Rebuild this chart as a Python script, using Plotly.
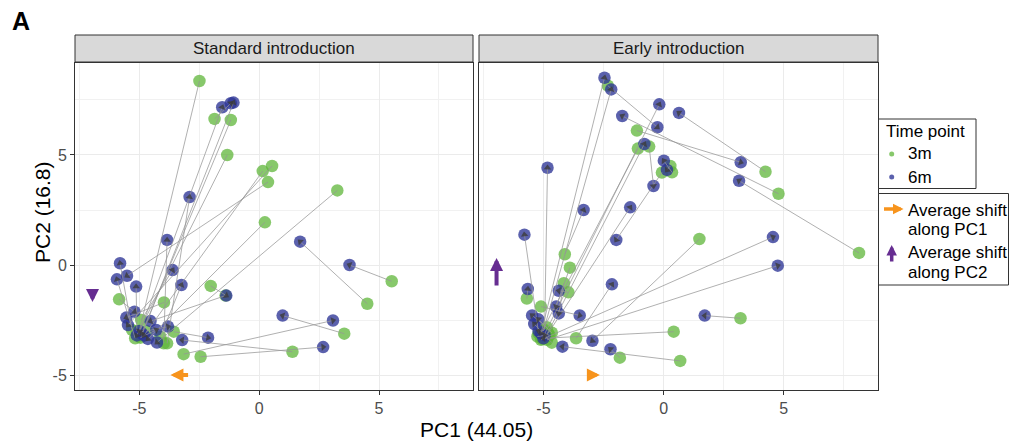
import math
import plotly.graph_objects as go

W, H = 1013, 443

panel_titles = ["Standard introduction", "Early introduction"]
time_points = ["3m", "6m"]
x_ticks = [-5, 0, 5]
y_ticks = [-5, 0, 5]

# Standard introduction: paired subjects, 3m -> 6m
std_pc1_3m = [-2.49, -5.00, -4.90, -1.86, -1.18, -1.33, 0.15, 0.54, 0.37, 0.24, 3.26, 5.53, 4.51, 3.55, -3.15, -2.44, 1.39, -2.02, -3.56, -3.84, -3.98, -5.30, -5.17, -5.10, -4.92, -4.12, -5.84, -3.97, -1.40, -4.70, -4.95]
std_pc2_3m = [8.36, -3.10, -3.20, 6.64, 6.59, 5.00, 4.27, 4.50, 3.77, 1.94, 3.39, -0.74, -1.76, -3.12, -4.05, -4.17, -3.94, -0.95, -3.03, -3.56, -3.56, -2.95, -3.33, -3.00, -2.50, -3.26, -1.56, -1.70, -1.39, -3.00, -3.30]
std_pc1_6m = [-5.00, -1.54, -1.07, -1.18, -4.90, -5.10, -4.80, -5.47, -5.51, -4.64, -4.26, 3.77, 1.71, 0.98, 3.08, 2.67, -3.21, -1.37, -2.13, -2.90, -3.84, -5.80, -5.93, -5.13, -3.61, -3.24, -5.20, -5.54, -4.53, -3.80, -4.29]
std_pc2_6m = [-3.00, 7.17, 7.38, 7.35, -3.10, -3.20, -3.20, -2.73, -0.49, -3.36, -3.52, 0.00, 1.06, -2.30, -2.52, -3.73, -3.41, -1.39, -3.30, 3.09, 1.14, 0.08, -0.65, -0.98, -0.23, -0.91, -2.12, -2.39, -2.55, -2.80, -2.95]

# Early introduction: paired subjects, 3m -> 6m
early_pc1_3m = [4.24, 8.13, 4.78, -2.32, -5.00, -1.11, -0.60, -5.10, -4.90, -5.05, -1.07, 0.28, 0.35, -0.07, -4.80, -4.11, -4.95, -5.20, -1.82, 0.69, 0.42, 1.49, 3.20, -5.10, -4.85, -3.64, -3.90, -4.15, -3.96, -5.10, -5.69, -4.86, -4.65, -4.65, -5.25, -4.75]
early_pc2_3m = [4.24, 0.55, 3.24, 8.15, -3.00, 6.11, 5.38, -3.10, -3.25, -3.35, 5.29, 4.50, 4.21, 4.20, -3.10, 0.49, -2.95, -3.10, -4.21, -4.36, -3.03, 1.18, -2.42, -3.40, -3.40, -3.33, -0.12, -0.83, -1.24, -1.89, -1.52, -2.83, -3.08, -3.53, -3.25, -3.20]
early_pc1_6m = [0.64, 3.14, -1.72, -0.26, -2.18, 3.21, -0.42, -2.46, -0.80, -0.18, -5.10, 0.14, 0.01, -1.97, -1.39, -3.33, -4.83, -5.79, -2.21, -4.21, -5.00, -2.96, 1.71, 4.55, 4.75, -2.15, -4.47, -4.36, -4.36, -3.49, -5.65, -5.47, -5.21, -5.38, -4.95, -5.20]
early_pc2_6m = [6.91, 3.83, 6.77, 6.26, 7.98, 4.67, 3.59, 8.51, 5.50, 7.30, -3.10, 4.32, 4.74, 1.14, 2.62, 2.50, 4.42, 1.38, -3.83, -3.71, -3.33, -3.44, -2.30, 1.27, -0.03, -0.88, -1.89, -2.20, -1.17, -2.29, -1.09, -2.29, -2.47, -2.68, -3.20, -3.00]

# Average shift arrows (per panel: standard, early)
shift_pc1_from = [-2.90, -3.20]
shift_pc1_to = [-3.70, -2.65]
shift_pc1_at_y = -5.0
shift_pc2_from = [-1.12, -1.00]
shift_pc2_to = [-1.68, 0.32]
shift_pc2_at_x = -6.95

GREEN = "rgba(95,182,58,0.75)"
BLUE = "rgba(45,52,150,0.78)"
ORANGE = "#F7941D"
PURPLE = "#662D91"
FONT = "Liberation Sans, Arial, sans-serif"

X_RANGE = [-7.68, 8.92]
Y_RANGE = [-5.68, 9.18]

# panel geometry (pixels)
panel_x = [(75, 473), (479, 878)]
panel_top, panel_bottom = 63, 390
strip_top, strip_bottom = 35, 62

def px(v):
    return v / W

def py(v):
    return 1 - v / H

# pixel per data unit (for orienting arrowheads)
SX = (panel_x[0][1] - panel_x[0][0]) / (X_RANGE[1] - X_RANGE[0])
SY = (panel_bottom - panel_top) / (Y_RANGE[1] - Y_RANGE[0])

fig = go.Figure()

panels = [
    (std_pc1_3m, std_pc2_3m, std_pc1_6m, std_pc2_6m, "x", "y"),
    (early_pc1_3m, early_pc2_3m, early_pc1_6m, early_pc2_6m, "x2", "y2"),
]

annotations = []
shapes = []

for x3, y3, x6, y6, xa, ya in panels:
    fig.add_trace(go.Scatter(x=x3, y=y3, mode="markers", xaxis=xa, yaxis=ya,
                             marker=dict(size=12.5, color=GREEN, line=dict(width=0)),
                             showlegend=False, hoverinfo="skip"))
    fig.add_trace(go.Scatter(x=x6, y=y6, mode="markers", xaxis=xa, yaxis=ya,
                             marker=dict(size=12.5, color=BLUE, line=dict(width=0)),
                             showlegend=False, hoverinfo="skip"))
    xs, ys = [], []
    for a, b, c, d in zip(x3, y3, x6, y6):
        xs += [a, c, None]
        ys += [b, d, None]
    fig.add_trace(go.Scatter(x=xs, y=ys, mode="lines", xaxis=xa, yaxis=ya,
                             line=dict(color="rgba(150,150,150,0.75)", width=1),
                             connectgaps=False, showlegend=False, hoverinfo="skip"))
    # small dark arrowheads at the 6m end of each segment
    angles = [math.degrees(math.atan2((c - a) * SX, (d - b) * SY)) for a, b, c, d in zip(x3, y3, x6, y6)]
    fig.add_trace(go.Scatter(x=x6, y=y6, mode="markers", xaxis=xa, yaxis=ya,
                             marker=dict(symbol="triangle-up", size=6.5, angle=angles,
                                         color="rgba(60,60,60,0.8)", line=dict(width=0)),
                             showlegend=False, hoverinfo="skip"))

# average shift arrows
for i, (xa, ya) in enumerate([("x", "y"), ("x2", "y2")]):
    annotations.append(dict(x=shift_pc1_to[i], y=shift_pc1_at_y, ax=shift_pc1_from[i], ay=shift_pc1_at_y,
                            xref=xa, yref=ya, axref=xa, ayref=ya, text="", showarrow=True,
                            arrowhead=2, arrowwidth=4, arrowsize=0.65, arrowcolor=ORANGE, standoff=0))
    annotations.append(dict(x=shift_pc2_at_x, y=shift_pc2_to[i], ax=shift_pc2_at_x, ay=shift_pc2_from[i],
                            xref=xa, yref=ya, axref=xa, ayref=ya, text="", showarrow=True,
                            arrowhead=2, arrowwidth=4, arrowsize=0.65, arrowcolor=PURPLE, standoff=0))

for (l, r), title in zip(panel_x, panel_titles):
    shapes.append(dict(type="rect", xref="paper", yref="paper", x0=px(l), x1=px(r),
                       y0=py(strip_bottom), y1=py(strip_top), fillcolor="#D9D9D9",
                       line=dict(color="#333333", width=1), layer="above"))
    annotations.append(dict(x=px((l + r) / 2), y=py((strip_top + strip_bottom) / 2), xref="paper", yref="paper",
                            text=title, showarrow=False, font=dict(family=FONT, size=17, color="#1A1A1A"),
                            xanchor="center", yanchor="middle"))

# axis titles & panel label
annotations.append(dict(x=px(476), y=py(429), xref="paper", yref="paper", text="PC1 (44.05)", showarrow=False,
                        font=dict(family=FONT, size=21, color="#000000"), xanchor="center", yanchor="middle"))
annotations.append(dict(x=px(42), y=py(212), xref="paper", yref="paper", text="PC2 (16.8)", showarrow=False,
                        textangle=-90, font=dict(family=FONT, size=21, color="#000000"),
                        xanchor="center", yanchor="middle"))
annotations.append(dict(x=px(21), y=py(21), xref="paper", yref="paper", text="<b>A</b>", showarrow=False,
                        font=dict(family=FONT, size=25, color="#000000"), xanchor="center", yanchor="middle"))

# legend 1: Time point
shapes.append(dict(type="rect", xref="paper", yref="paper", x0=px(878.5), x1=px(976), y0=py(188.5), y1=py(119),
                   line=dict(color="#333333", width=1), fillcolor="white"))
annotations.append(dict(x=px(884), y=py(131), xref="paper", yref="paper", text="Time point", showarrow=False,
                        font=dict(family=FONT, size=17, color="#000000"), xanchor="left", yanchor="middle"))
for lab, col, yc in zip(time_points, [GREEN, BLUE], [154, 177]):
    shapes.append(dict(type="circle", xref="paper", yref="paper", x0=px(889.2), x1=px(894.2),
                       y0=py(yc + 2.5), y1=py(yc - 2.5), fillcolor=col, line=dict(width=0)))
    annotations.append(dict(x=px(906), y=py(yc), xref="paper", yref="paper", text=lab, showarrow=False,
                            font=dict(family=FONT, size=17, color="#000000"), xanchor="left", yanchor="middle"))

# legend 2: average shift arrows
shapes.append(dict(type="rect", xref="paper", yref="paper", x0=px(878.5), x1=px(1008.5), y0=py(285), y1=py(193.5),
                   line=dict(color="#333333", width=1), fillcolor="white"))
annotations.append(dict(x=px(903.5), y=py(209), xref="paper", yref="paper", text="", showarrow=True,
                        ax=-21, ay=0, arrowhead=2, arrowwidth=3.5, arrowsize=0.6, arrowcolor=ORANGE, standoff=0))
annotations.append(dict(x=px(891.7), y=py(245), xref="paper", yref="paper", text="", showarrow=True,
                        ax=0, ay=18, arrowhead=2, arrowwidth=3.5, arrowsize=0.6, arrowcolor=PURPLE, standoff=0))
for txt, yc in [("Average shift", 210), ("along PC1", 229), ("Average shift", 252), ("along PC2", 272)]:
    annotations.append(dict(x=px(906), y=py(yc), xref="paper", yref="paper", text=txt, showarrow=False,
                            font=dict(family=FONT, size=17, color="#000000"), xanchor="left", yanchor="middle"))

axis_common = dict(range=X_RANGE, showgrid=True, gridcolor="#EBEBEB", gridwidth=1.1, zeroline=False,
                   showline=True, mirror=True, linecolor="#333333", linewidth=1,
                   ticks="outside", ticklen=4, tickcolor="#333333", tickwidth=1,
                   tickvals=x_ticks, ticktext=[str(v) for v in x_ticks],
                   tickfont=dict(family=FONT, size=16, color="#4D4D4D"),
                   minor=dict(tickvals=[-7.5, -2.5, 2.5, 7.5], showgrid=True, gridcolor="#F1F1F1", gridwidth=0.7,
                              ticks=""))
yaxis_common = dict(range=Y_RANGE, showgrid=True, gridcolor="#EBEBEB", gridwidth=1.1, zeroline=False,
                    showline=True, mirror=True, linecolor="#333333", linewidth=1,
                    ticks="outside", ticklen=4, tickcolor="#333333", tickwidth=1,
                    tickvals=y_ticks, ticktext=[str(v) for v in y_ticks],
                    tickfont=dict(family=FONT, size=16, color="#4D4D4D"),
                    domain=[py(panel_bottom), py(panel_top)],
                    minor=dict(tickvals=[-2.5, 2.5, 7.5], showgrid=True, gridcolor="#F1F1F1", gridwidth=0.7,
                               ticks=""))

fig.update_layout(
    width=W, height=H, margin=dict(l=0, r=0, t=0, b=0),
    paper_bgcolor="white", plot_bgcolor="white",
    xaxis=dict(axis_common, domain=[px(panel_x[0][0]), px(panel_x[0][1])], anchor="y"),
    xaxis2=dict(axis_common, domain=[px(panel_x[1][0]), px(panel_x[1][1])], anchor="y2"),
    yaxis=dict(yaxis_common, anchor="x"),
    yaxis2=dict(yaxis_common, anchor="x2", showticklabels=False, ticks=""),
    shapes=shapes, annotations=annotations,
    font=dict(family=FONT),
)

fig.write_html("out.html")
